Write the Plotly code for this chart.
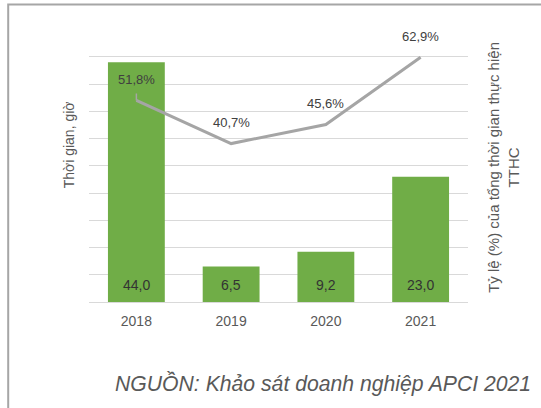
import plotly.graph_objects as go

# ---- data ----
years = ["2018", "2019", "2020", "2021"]
hours = [44.0, 6.5, 9.2, 23.0]
hour_labels = ["44,0", "6,5", "9,2", "23,0"]
share_pct = [51.8, 40.7, 45.6, 62.9]
share_labels = ["51,8%", "40,7%", "45,6%", "62,9%"]

left_title = "Thời gian, giờ"
right_title = "Tỷ lệ (%) của tổng thời gian thực hiện<br>TTHC"
source_note = "NGUỒN: Khảo sát doanh nghiệp APCI 2021"

# ---- layout geometry (pixels) ----
W, H = 541, 408
PL, PR, PT, PB = 89, 468, 29.3, 302
def px_x(px):
    return (px - PL) / (PR - PL)
def px_y(py):
    return (PB - py) / (PB - PT)

Y_TOP = 50.1
Y2_TOP = 70 * Y_TOP / 50

FONT = "Liberation Sans, Arial, sans-serif"
BAR_COLOR = "#70ad47"
LINE_COLOR = "#a5a5a5"
TEXT_DARK = "#404040"
TEXT_GRAY = "#595959"

fig = go.Figure()
fig.add_trace(go.Bar(
    x=years, y=hours, marker=dict(color=BAR_COLOR, line=dict(width=0)),
    hoverinfo="skip", showlegend=False,
))
fig.add_trace(go.Scatter(
    x=years, y=share_pct, yaxis="y2", mode="lines",
    line=dict(color=LINE_COLOR, width=3), hoverinfo="skip", showlegend=False,
))

annotations = []
for i, (v, t) in enumerate(zip(hours, hour_labels)):
    annotations.append(dict(
        x=i, y=0, xref="x", yref="y", yshift=17, text=t, showarrow=False,
        yanchor="middle", font=dict(family=FONT, size=14, color="#333333"),
    ))
for i, (v, t) in enumerate(zip(share_pct, share_labels)):
    if i == 0:
        # label with a short leader line (it sits over the bar)
        annotations.append(dict(
            x=i, y=v, xref="x", yref="y2", text=t, showarrow=True,
            arrowhead=0, arrowwidth=1.5, arrowcolor=LINE_COLOR,
            ax=0, ay=-21, standoff=0, startstandoff=5,
            yanchor="middle", font=dict(family=FONT, size=13, color=TEXT_DARK),
        ))
    else:
        annotations.append(dict(
            x=i, y=v, xref="x", yref="y2", yshift=21, text=t, showarrow=False,
            yanchor="middle", font=dict(family=FONT, size=13, color=TEXT_DARK),
        ))
annotations.append(dict(
    x=px_x(68.5), y=px_y(145), xref="paper", yref="paper", text=left_title,
    textangle=-90, showarrow=False, xanchor="center", yanchor="middle",
    font=dict(family=FONT, size=14, color=TEXT_GRAY),
))
annotations.append(dict(
    x=px_x(504), y=px_y(168), xref="paper", yref="paper", text=right_title,
    textangle=-90, showarrow=False, xanchor="center", yanchor="middle",
    font=dict(family=FONT, size=15, color=TEXT_GRAY),
))
annotations.append(dict(
    x=px_x(533), y=px_y(383), xref="paper", yref="paper",
    text="<i>" + source_note + "</i>", showarrow=False,
    xanchor="right", yanchor="middle",
    font=dict(family=FONT, size=21.2, color=TEXT_GRAY),
))

fig.update_layout(
    template="none",
    width=W, height=H, autosize=False,
    margin=dict(l=PL, r=W - PR, t=PT, b=H - PB, pad=0),
    paper_bgcolor="white", plot_bgcolor="white",
    bargap=0.4, showlegend=False,
    font=dict(family=FONT, color=TEXT_GRAY, size=13),
    xaxis=dict(type="category", range=[-0.5, len(years) - 0.5], autorange=False,
               showgrid=False, showline=False, zeroline=False,
               ticks="", ticklabelstandoff=9,
               tickfont=dict(size=14, color=TEXT_GRAY)),
    yaxis=dict(range=[0, Y_TOP], autorange=False, dtick=5, showticklabels=False,
               showgrid=True, gridcolor="#d9d9d9", gridwidth=1, zeroline=True,
               zerolinecolor="#d9d9d9", zerolinewidth=1, ticks="", showline=False),
    yaxis2=dict(range=[0, Y2_TOP], autorange=False, overlaying="y", side="right",
                showgrid=False, showticklabels=False, zeroline=False, ticks="",
                showline=False),
    annotations=annotations,
    shapes=[dict(type="rect", xref="paper", yref="paper",
                 x0=px_x(8.2), x1=px_x(560), y0=px_y(430), y1=px_y(4.8),
                 line=dict(color="#a6a6a6", width=2), fillcolor="rgba(0,0,0,0)",
                 layer="above")],
)

fig.write_html(
    "out.html",
    config={"displayModeBar": False, "staticPlot": True},
    post_script="document.body.style.margin='0px';document.body.style.padding='0px';",
)
